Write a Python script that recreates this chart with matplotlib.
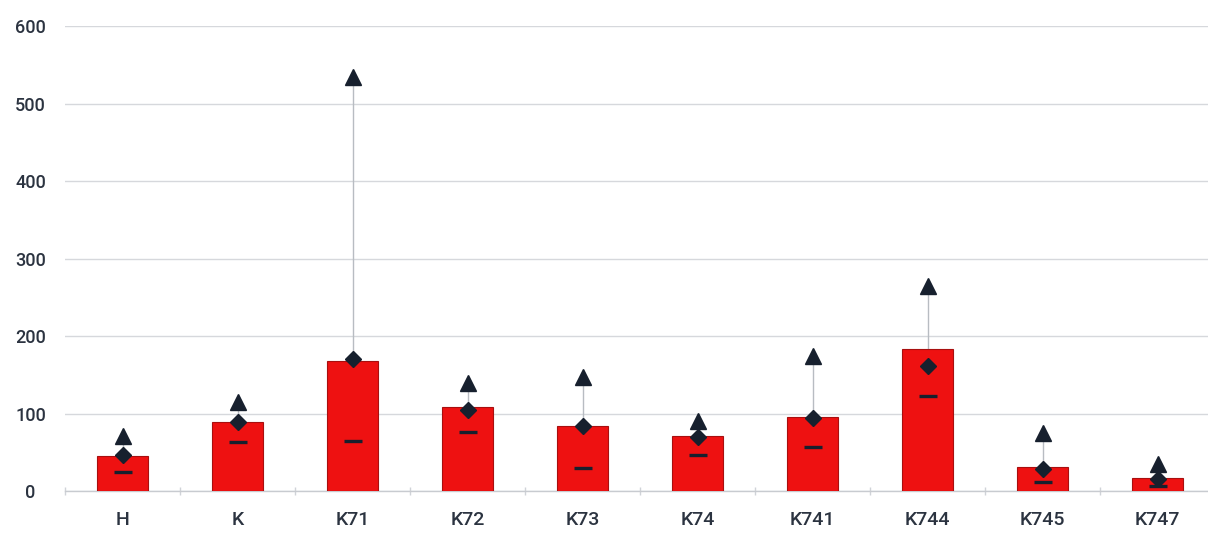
import numpy as np
import matplotlib
matplotlib.use("Agg")
import matplotlib.pyplot as plt

# ── DATA ──────────────────────────────────────────────────────────────────────
categories = ["H", "K", "K71", "K72", "K73", "K74", "K741", "K744", "K745", "K747"]
bar_vals   = [45, 89, 168, 108, 84, 71, 96, 183, 31, 17]
max_vals   = [71, 115, 534, 139, 147, 90, 174, 265, 75, 35]
mean_vals  = [47, 89, 170, 105, 84, 70, 94, 161, 29, 16]
min_vals   = [25, 64, 65, 76, 30, 47, 57, 123, 12, 6]
y_ticks    = [0, 100, 200, 300, 400, 500, 600]

# ── STYLE ─────────────────────────────────────────────────────────────────────
plt.rcParams["font.family"] = ["Roboto", "DejaVu Sans"]
TEXT_COL   = "#2b3340"
MARK_COL   = "#17202e"
BAR_COL    = "#ee1111"
EDGE_COL   = "#a80f0f"

# ── PLOT ──────────────────────────────────────────────────────────────────────
fig = plt.figure(figsize=(12.08, 5.35), dpi=100)
ax = fig.add_axes([0.054, 0.082, 0.952, 0.869])

x = np.arange(len(categories))

ax.vlines(x, min_vals, max_vals, color="#b8bcc2", linewidth=1.0, zorder=2)
ax.bar(x, bar_vals, width=0.44, color=BAR_COL, edgecolor=EDGE_COL,
       linewidth=0.8, zorder=3)
ax.plot(x, max_vals, linestyle="none", marker="^", markersize=11,
        color=MARK_COL, zorder=5)
ax.plot(x, mean_vals, linestyle="none", marker="D", markersize=8,
        color=MARK_COL, zorder=5)
ax.plot(x, min_vals, linestyle="none", marker="_", markersize=13,
        markeredgewidth=2.4, color=MARK_COL, zorder=5)

ax.set_xlim(-0.5, len(categories) - 0.5)
ax.set_ylim(0, 600)
ax.set_yticks(y_ticks)
ax.set_xticks(x)
ax.set_xticklabels(categories)
ax.set_xticks(np.arange(len(categories) + 1) - 0.5, minor=True)

ax.grid(axis="y", color="#d6d8dc", linewidth=1.0, zorder=0)
ax.set_axisbelow(True)
for side in ["top", "right", "left"]:
    ax.spines[side].set_visible(False)
ax.spines["bottom"].set_color("#c8cbd0")
ax.spines["bottom"].set_linewidth(1.0)

ax.tick_params(axis="y", length=0, pad=25, labelsize=13, labelcolor=TEXT_COL)
ax.tick_params(axis="x", which="major", length=0, pad=14, labelsize=14,
               labelcolor=TEXT_COL)
ax.tick_params(axis="x", which="minor", length=6, direction="inout",
               color="#d0d3d8", width=1)
for lbl in ax.get_yticklabels():
    lbl.set_horizontalalignment("center")
for lbl in ax.get_xticklabels() + ax.get_yticklabels():
    lbl.set_fontweight("medium")

fig.savefig("out.png", dpi=100, facecolor="white")
